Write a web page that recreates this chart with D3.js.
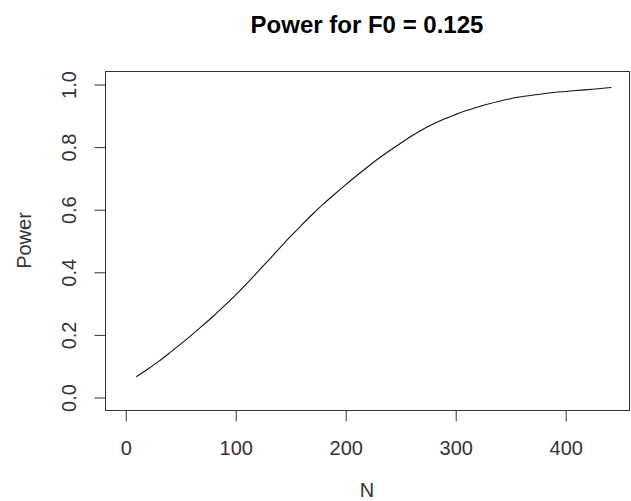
<!DOCTYPE html>
<html>
<head>
<meta charset="utf-8">
<script src="https://cdn.jsdelivr.net/npm/d3@7"></script>
<style>
  html, body { margin: 0; padding: 0; background: #fff; }
  svg { display: block; font-family: "Liberation Sans", Arial, Helvetica, sans-serif; }
</style>
</head>
<body>
<svg id="chart" width="631" height="501"></svg>
<script>
const titleText = "Power for F0 = 0.125";
const xLabel = "N";
const yLabel = "Power";
const xTicks = [0, 100, 200, 300, 400];
const yTicks = [0.0, 0.2, 0.4, 0.6, 0.8, 1.0];
const nValues = [10, 20, 30, 40, 50, 60, 70, 80, 90, 100, 110, 120, 130, 140, 150, 160, 170, 180, 190, 200,
  210, 220, 230, 240, 250, 260, 270, 280, 290, 300, 310, 320, 330, 340, 350, 360, 370, 380, 390, 400,
  410, 420, 430, 442];
const powerValues = [0.065, 0.088, 0.113, 0.140, 0.168, 0.197, 0.227, 0.258, 0.291, 0.325, 0.361, 0.398, 0.436, 0.474, 0.512, 0.548, 0.583, 0.616, 0.647, 0.677,
  0.706, 0.734, 0.761, 0.786, 0.810, 0.833, 0.854, 0.872, 0.888, 0.902, 0.915, 0.926, 0.936, 0.945, 0.953, 0.959, 0.964, 0.969, 0.973, 0.976,
  0.979, 0.982, 0.985, 0.989];

const svg = d3.select("#chart");
const box = { left: 105, right: 629, top: 71, bottom: 410 };

const x = d3.scaleLinear().domain([-18.4, 458.0]).range([box.left, box.right]);
const y = d3.scaleLinear().domain([-0.0415, 1.0415]).range([box.bottom, box.top]);

// plot box
svg.append("rect")
  .attr("x", box.left + 0.5).attr("y", box.top + 0.5)
  .attr("width", box.right - box.left).attr("height", box.bottom - box.top)
  .attr("fill", "none").attr("stroke", "#333").attr("stroke-width", 1);

// x axis
const xAxis = svg.append("g")
  .attr("transform", `translate(0.5,${box.bottom + 0.5})`)
  .call(d3.axisBottom(x).tickValues(xTicks).tickSize(11).tickPadding(0).tickFormat(d3.format("d")));
xAxis.select(".domain").attr("d", `M${x(xTicks[0])},0H${x(xTicks[xTicks.length - 1])}`).attr("stroke", "#333");
xAxis.selectAll(".tick line").attr("stroke", "#333");
xAxis.selectAll(".tick text")
  .attr("y", 44).attr("dy", null)
  .attr("font-size", 20).attr("fill", "#333");

// y axis
const yAxis = svg.append("g")
  .attr("transform", `translate(${box.left + 0.5},0.5)`)
  .call(d3.axisLeft(y).tickValues(yTicks).tickSize(11).tickFormat(d3.format(".1f")));
yAxis.select(".domain").attr("d", `M0,${y(yTicks[0])}V${y(yTicks[yTicks.length - 1])}`).attr("stroke", "#333");
yAxis.selectAll(".tick line").attr("stroke", "#333");
yAxis.selectAll(".tick text")
  .attr("x", null).attr("dy", null)
  .attr("transform", "translate(-30,0) rotate(-90)")
  .attr("text-anchor", "middle")
  .attr("font-size", 20).attr("fill", "#333");
svg.selectAll("g").attr("font-family", null);

// line
const pts = nValues.map((n, i) => [n, powerValues[i]]);
svg.append("path")
  .datum(pts)
  .attr("fill", "none")
  .attr("stroke", "#111")
  .attr("stroke-width", 1.1)
  .attr("d", d3.line().x(d => x(d[0])).y(d => y(d[1])).curve(d3.curveMonotoneX));

// title
svg.append("text")
  .attr("x", (box.left + box.right) / 2).attr("y", 33)
  .attr("text-anchor", "middle")
  .attr("font-size", 24).attr("font-weight", "bold").attr("fill", "#000")
  .text(titleText);

// axis labels
svg.append("text")
  .attr("x", (box.left + box.right) / 2).attr("y", 497)
  .attr("text-anchor", "middle")
  .attr("font-size", 20).attr("fill", "#333")
  .text(xLabel);

svg.append("text")
  .attr("transform", `translate(30.5,${(box.top + box.bottom) / 2}) rotate(-90)`)
  .attr("text-anchor", "middle")
  .attr("font-size", 20).attr("fill", "#333")
  .text(yLabel);
</script>
</body>
</html>
